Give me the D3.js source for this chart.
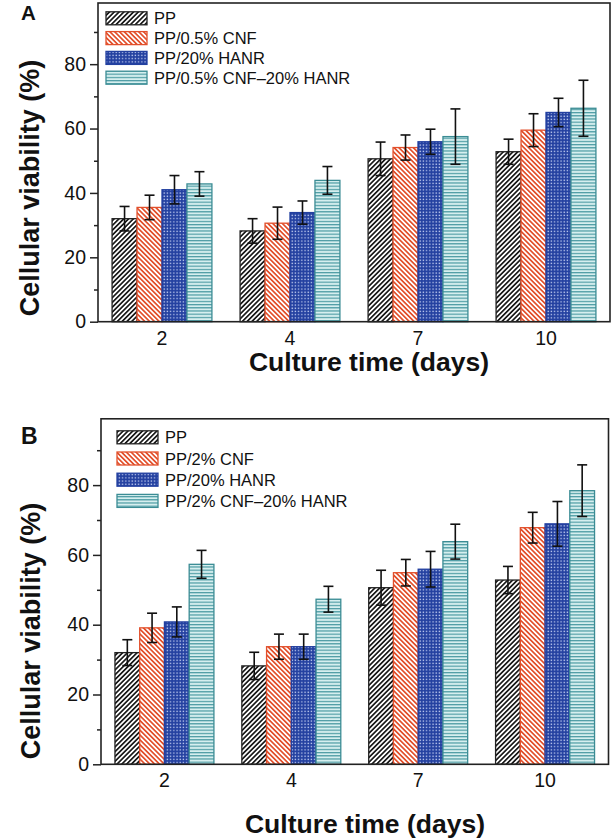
<!DOCTYPE html>
<html>
<head>
<meta charset="utf-8">
<script src="https://cdn.jsdelivr.net/npm/d3@7"></script>
<style>
  html, body { margin: 0; padding: 0; background: #fff; }
  svg { display: block; font-family: "Liberation Sans", Arial, sans-serif; }
</style>
</head>
<body>
<svg id="chart" width="615" height="840"></svg>
<script>
// ---------------- data ----------------
const days = ["2", "4", "7", "10"];
const seriesA = ["PP", "PP/0.5% CNF", "PP/20% HANR", "PP/0.5% CNF\u201320% HANR"];
const seriesB = ["PP", "PP/2% CNF", "PP/20% HANR", "PP/2% CNF\u201320% HANR"];
// values[series][day]
const valuesA = [
  [32.0, 28.2, 50.6, 52.8],
  [35.5, 30.6, 54.1, 59.5],
  [41.0, 33.9, 55.9, 65.0],
  [42.8, 43.9, 57.5, 66.3]
];
const errorsA = [
  [3.8, 3.8, 5.2, 3.9],
  [3.8, 5.0, 3.9, 5.1],
  [4.4, 3.6, 3.9, 4.4],
  [3.8, 4.3, 8.6, 8.7]
];
const valuesB = [
  [32.0, 28.2, 50.6, 52.8],
  [39.1, 33.7, 54.9, 67.8],
  [40.8, 33.7, 55.9, 68.9],
  [57.3, 47.3, 63.8, 78.4]
];
const errorsB = [
  [3.7, 3.9, 5.0, 3.9],
  [4.2, 3.6, 3.8, 4.4],
  [4.3, 3.6, 5.1, 6.4],
  [4.0, 3.7, 5.0, 7.4]
];
const majorTicks = [0, 20, 40, 60, 80];
const minorTicks = [10, 30, 50, 70, 90];
const yTitle = "Cellular viability (%)";
const xTitle = "Culture time (days)";

// ---------------- styles ----------------
const strokes = ["#222222", "#e2502c", "#2340a0", "#3b8c94"];
const fills = ["url(#pPP)", "url(#pCNF)", "url(#pHANR)", "url(#pMIX)"];
const FONT = "'Liberation Sans', Arial, sans-serif";

const svg = d3.select("#chart");
const defs = svg.append("defs");

// PP: black "/" hatch
const p1 = defs.append("pattern").attr("id", "pPP").attr("patternUnits", "userSpaceOnUse")
  .attr("width", 3.4).attr("height", 3.4).attr("patternTransform", "rotate(45)");
p1.append("rect").attr("width", 3.4).attr("height", 3.4).attr("fill", "#fff");
p1.append("rect").attr("width", 1.7).attr("height", 3.4).attr("fill", "#1a1a1a");
// CNF: red "\" hatch
const p2 = defs.append("pattern").attr("id", "pCNF").attr("patternUnits", "userSpaceOnUse")
  .attr("width", 3.4).attr("height", 3.4).attr("patternTransform", "rotate(-45)");
p2.append("rect").attr("width", 3.4).attr("height", 3.4).attr("fill", "#fff");
p2.append("rect").attr("width", 1.7).attr("height", 3.4).attr("fill", "#e2502c");
// HANR: blue with white dots
const p3 = defs.append("pattern").attr("id", "pHANR").attr("patternUnits", "userSpaceOnUse")
  .attr("width", 3.2).attr("height", 3.2);
p3.append("rect").attr("width", 3.2).attr("height", 3.2).attr("fill", "#2340a0");
p3.append("rect").attr("x", 0.4).attr("y", 0.4).attr("width", 1.3).attr("height", 1.3).attr("fill", "#c9d3f5");
// MIX: teal horizontal lines on pale teal
const p4 = defs.append("pattern").attr("id", "pMIX").attr("patternUnits", "userSpaceOnUse")
  .attr("width", 4).attr("height", 3.2);
p4.append("rect").attr("width", 4).attr("height", 3.2).attr("fill", "#d6efef");
p4.append("rect").attr("y", 0).attr("width", 4).attr("height", 1.2).attr("fill", "#4a9aa2");

// ---------------- panel drawer ----------------
function drawPanel(cfg) {
  const g = svg.append("g");
  const x = d3.scaleBand().domain(days).range([cfg.x0, cfg.x1])
    .paddingInner(0.22).paddingOuter(0.11);
  const xs = d3.scaleBand().domain(d3.range(cfg.series.length)).range([0, x.bandwidth()]);
  const y = d3.scaleLinear().domain([0, 99]).range([cfg.y0, cfg.y1]);

  // bars
  cfg.series.forEach((name, si) => {
    g.append("g").selectAll("rect").data(days).join("rect")
      .attr("x", d => x(d) + xs(si))
      .attr("y", (d, di) => y(cfg.values[si][di]))
      .attr("width", xs.bandwidth())
      .attr("height", (d, di) => y(0) - y(cfg.values[si][di]))
      .attr("fill", fills[si])
      .attr("stroke", strokes[si])
      .attr("stroke-width", 1.3);
  });
  // error bars
  cfg.series.forEach((name, si) => {
    const eg = g.append("g").attr("stroke", "#111").attr("stroke-width", 1.6).attr("fill", "none");
    days.forEach((d, di) => {
      const cx = x(d) + xs(si) + xs.bandwidth() / 2;
      const v = cfg.values[si][di], e = cfg.errors[si][di];
      eg.append("line").attr("x1", cx).attr("x2", cx).attr("y1", y(v + e)).attr("y2", y(v - e));
      eg.append("line").attr("x1", cx - 5).attr("x2", cx + 5).attr("y1", y(v + e)).attr("y2", y(v + e));
      eg.append("line").attr("x1", cx - 5).attr("x2", cx + 5).attr("y1", y(v - e)).attr("y2", y(v - e));
    });
  });

  // frame
  g.append("rect").attr("x", cfg.x0).attr("y", cfg.y1)
    .attr("width", cfg.x1 - cfg.x0).attr("height", cfg.y0 - cfg.y1)
    .attr("fill", "none").attr("stroke", "#222").attr("stroke-width", 1.6);

  // y axis (major)
  const yAxis = d3.axisLeft(y).tickValues(majorTicks).tickSize(8).tickPadding(4)
    .tickFormat(d3.format("d"));
  const ya = g.append("g").attr("transform", `translate(${cfg.x0},0)`).call(yAxis);
  ya.select(".domain").remove();
  ya.selectAll("line").attr("stroke", "#222").attr("stroke-width", 1.5);
  ya.selectAll("text").attr("font-family", FONT).attr("font-size", 19.5).attr("fill", "#111");
  // y axis (minor)
  const yMinor = d3.axisLeft(y).tickValues(minorTicks).tickSize(4).tickFormat("");
  const ym = g.append("g").attr("transform", `translate(${cfg.x0},0)`).call(yMinor);
  ym.select(".domain").remove();
  ym.selectAll("line").attr("stroke", "#222").attr("stroke-width", 1.5);

  // x axis (labels only)
  const xAxis = d3.axisBottom(x).tickSize(0).tickPadding(cfg.xPad);
  const xa = g.append("g").attr("transform", `translate(0,${cfg.y0})`).call(xAxis);
  xa.select(".domain").remove();
  xa.selectAll("text").attr("font-family", FONT).attr("font-size", 19.5).attr("fill", "#111");

  // titles
  g.append("text").attr("x", cfg.xTitleX).attr("y", cfg.xTitleY)
    .attr("text-anchor", "middle").attr("font-family", FONT).attr("font-weight", "bold")
    .attr("font-size", 26.5).attr("fill", "#111").text(xTitle);
  g.append("text").attr("transform", `translate(${cfg.yTitleX},${cfg.yTitleY}) rotate(-90)`)
    .attr("text-anchor", "middle").attr("font-family", FONT).attr("font-weight", "bold")
    .attr("font-size", 27).attr("fill", "#111").text(yTitle);
  g.append("text").attr("x", cfg.labelX).attr("y", cfg.labelY)
    .attr("font-family", FONT).attr("font-weight", "bold")
    .attr("font-size", cfg.labelSize).attr("fill", "#111").text(cfg.label);

  // legend
  const lg = g.append("g");
  cfg.series.forEach((name, si) => {
    const cy = cfg.legY + si * cfg.legStep;
    lg.append("rect").attr("x", cfg.legX).attr("y", cy - 6.5)
      .attr("width", 41).attr("height", 13)
      .attr("fill", fills[si]).attr("stroke", strokes[si]).attr("stroke-width", 1.3);
    lg.append("text").attr("x", cfg.legX + 48).attr("y", cy + 6)
      .attr("font-family", FONT).attr("font-size", 16.5).attr("fill", "#111").text(name);
  });
}

drawPanel({
  series: seriesA, values: valuesA, errors: errorsA,
  x0: 98, x1: 610, y0: 321.7, y1: 3,
  xPad: 9, xTitleX: 369, xTitleY: 371,
  yTitleX: 39, yTitleY: 188,
  label: "A", labelX: 21, labelY: 20, labelSize: 20.5,
  legX: 106, legY: 18.3, legStep: 19.8
});
drawPanel({
  series: seriesB, values: valuesB, errors: errorsB,
  x0: 101, x1: 608.5, y0: 764.3, y1: 418.8,
  xPad: 9, xTitleX: 365, xTitleY: 833,
  yTitleX: 40, yTitleY: 631,
  label: "B", labelX: 21, labelY: 443.5, labelSize: 23,
  legX: 117, legY: 437.3, legStep: 21.2
});
</script>
</body>
</html>
